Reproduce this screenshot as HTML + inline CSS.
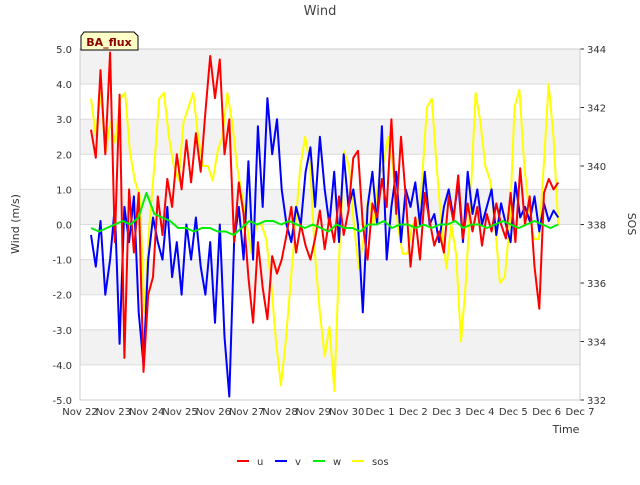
<!DOCTYPE html>
<html><head><meta charset="utf-8"><style>
body{margin:0;background:#fff;font-family:"Liberation Sans","DejaVu Sans",sans-serif;}
svg text{font-family:"DejaVu Sans","Liberation Sans",sans-serif;}
</style></head><body>
<svg id="c" width="640" height="480" xmlns="http://www.w3.org/2000/svg"></svg>
<script>
const xLabels=["Nov 22","Nov 23","Nov 24","Nov 25","Nov 26","Nov 27","Nov 28","Nov 29","Nov 30","Dec 1","Dec 2","Dec 3","Dec 4","Dec 5","Dec 6","Dec 7"];
const yTicks=[-5,-4,-3,-2,-1,0,1,2,3,4,5];
const y2Ticks=[332,334,336,338,340,342,344];
const tStart=0.33, tEnd=14.35;
const uVals=[2.7,1.9,4.4,2.0,4.9,
-0.5,3.7,-3.8,1.0,-0.8,0.9,-4.2,
-2.0,-1.5,0.8,-0.3,1.3,0.5,2.0,
1.0,2.4,1.2,2.6,1.5,3.2,4.8,
3.6,4.7,2.0,3.0,-0.5,1.2,0.3,
-1.5,-2.8,-0.5,-1.8,-2.7,-0.9,-1.4,
-1.0,-0.3,0.5,-0.8,0.0,-0.6,-1.0,
-0.4,0.4,-0.7,0.2,-0.5,0.8,-0.3,
0.4,1.9,2.1,0.0,-1.0,0.6,0.2,
1.3,0.5,3.0,0.3,2.5,0.8,-1.2,
0.2,-1.0,0.9,0.1,-0.6,-0.2,-0.8,
0.8,0.1,1.4,-0.4,0.6,-0.2,0.5,
-0.6,0.3,-0.2,0.6,0.0,-0.4,0.9,
-0.5,1.6,0.0,0.8,-1.2,-2.4,0.9,
1.3,1.0,1.2];
const vVals=[-0.3,-1.2,0.1,-2.0,-1.0,
0.5,-3.4,0.5,-0.5,0.8,-2.5,-4.0,
-1.0,0.2,-0.5,-1.0,0.5,-1.5,-0.5,
-2.0,0.0,-1.0,0.2,-1.2,-2.0,-0.5,
-2.8,0.0,-3.2,-4.9,-0.5,0.5,-1.0,
1.8,-1.0,2.8,0.5,3.6,2.0,3.0,
1.0,0.0,-0.5,0.5,0.0,1.5,2.2,
0.5,2.5,1.0,0.0,1.5,-0.5,2.0,
0.5,1.0,0.0,-2.5,0.5,1.5,0.0,
2.8,-1.0,0.5,1.5,-0.5,1.0,0.5,
1.2,0.0,1.5,0.0,0.3,-0.5,0.5,
1.0,0.2,1.2,-0.5,1.5,0.3,1.0,
0.0,0.5,1.0,-0.3,0.6,0.0,-0.5,
1.2,0.2,0.5,0.1,0.8,-0.2,0.6,
0.1,0.4,0.2];
const wVals=[-0.1,-0.2,-0.1,0.0,0.1,0.0,0.2,0.9,0.3,0.2,0.1,-0.1,-0.1,-0.2,-0.1,-0.1,-0.2,-0.2,-0.3,-0.1,0.1,0.0,0.1,0.1,0.0,0.1,0.0,-0.1,0.0,-0.1,-0.2,0.0,-0.1,-0.1,-0.2,0.0,0.0,0.1,-0.1,0.0,0.0,-0.1,0.0,-0.1,0.0,0.0,0.1,-0.1,0.0,0.0,-0.1,0.0,0.1,0.0,-0.1,0.0,0.1,0.0,-0.1,0.0];
const sosVals=[342.3,341,342.5,340.5,341.5,340.8,342.3,
342.5,340.5,339.5,339,335,338,340,
342.3,342.5,341,340,339.5,341.5,342,
342.5,341,340,340,339.5,340.5,341,
342.5,341.5,340,339,338,337,338,
338,337.5,336,334,332.5,334,336,
338,340,341,340,337,335,333.5,
334.5,332.3,337,340.5,340,338,336.5,
337.5,339,338,339.5,340,341,340,
338,337,337,338,338,339.5,342,
342.3,340,338,336.5,338,337,334,
336,339,342.5,341.5,340,339.5,338,
336,336.2,338,342,342.6,340,338.5,
337.5,337.5,340,342.8,341,338];
const svg=document.getElementById('c');
const NS='http://www.w3.org/2000/svg';
const L=80,R=580,T=49,B=400;
const xs=d=>L+(R-L)*d/15;
const ys=v=>T+(B-T)*(5-v)/10;
const ys2=v=>T+(B-T)*(344-v)/12;
function mk(tag,attrs,parent){const e=document.createElementNS(NS,tag);for(const k in attrs)e.setAttribute(k,attrs[k]);(parent||svg).appendChild(e);return e;}
function txt(s,attrs){const e=mk('text',attrs);e.textContent=s;return e;}
// bands
for(let v=4;v>=-4;v-=2){const b=mk('rect',{x:L,y:ys(v+1),width:R-L,height:ys(v)-ys(v+1),fill:'#f2f2f2'});

}
yTicks.forEach(v=>{const g=mk('line',{x1:L,x2:R,y1:ys(v),y2:ys(v),stroke:'#dcdcdc','stroke-width':1});


const t=txt(v.toFixed(1),{x:72,y:ys(v)+4,'text-anchor':'end','font-size':10,fill:'#333'});

});
y2Ticks.forEach(v=>{mk('line',{x1:R,x2:R+4,y1:ys2(v),y2:ys2(v),stroke:'#333'});
const t=txt(String(v),{x:587,y:ys2(v)+4,'font-size':10,fill:'#333'});

});
xLabels.forEach((s,i)=>{const t=txt(s,{x:xs(i),y:415,'text-anchor':'middle','font-size':10,fill:'#333'});

});
mk('rect',{x:L,y:T,width:R-L,height:B-T,fill:'none',stroke:'#ccc'});
function series(vals,scale,color,name){const n=vals.length;const pts=vals.map((v,i)=>xs(tStart+(tEnd-tStart)*i/(n-1)).toFixed(1)+','+scale(v).toFixed(1)).join(' ');
const p=mk('polyline',{points:pts,fill:'none',stroke:color,'stroke-width':2,'stroke-linejoin':'round'});

}
series(sosVals,ys2,'#ffff00','sos-line');
series(vVals,ys,'#0000ff','v-line');
series(uVals,ys,'#ff0000','u-line');
series(wVals,ys,'#00ee00','w-line');
let t;
t=txt('Wind',{x:320,y:15,'text-anchor':'middle','font-size':13,fill:'#444'});

t=txt('Wind (m/s)',{x:19,y:224,'text-anchor':'middle','font-size':11,fill:'#333',transform:'rotate(-90 19 224)'});

t=txt('SOS',{x:628,y:224,'text-anchor':'middle','font-size':11,fill:'#333',transform:'rotate(90 628 224)'});

t=txt('Time',{x:566,y:433,'text-anchor':'middle','font-size':11,fill:'#333'});

const bx=mk('path',{d:'M84,32 L134,32 L138,36 L138,50 L81,50 L81,36 Z',fill:'#ffffc8',stroke:'#000','stroke-width':1});

t=txt('BA_flux',{x:109,y:46,'text-anchor':'middle','font-size':11,'font-weight':'bold',fill:'#8b0000'});

const leg=[['u','#ff0000',237],['v','#0000ff',275],['w','#00ee00',313],['sos','#ffff00',352]];
leg.forEach(([s,c,x])=>{const l=mk('line',{x1:x,x2:x+12,y1:461,y2:461,stroke:c,'stroke-width':2});

const tt=txt(s,{x:x+20,y:465,'font-size':10,fill:'#333'});
});
</script>
</body></html>
